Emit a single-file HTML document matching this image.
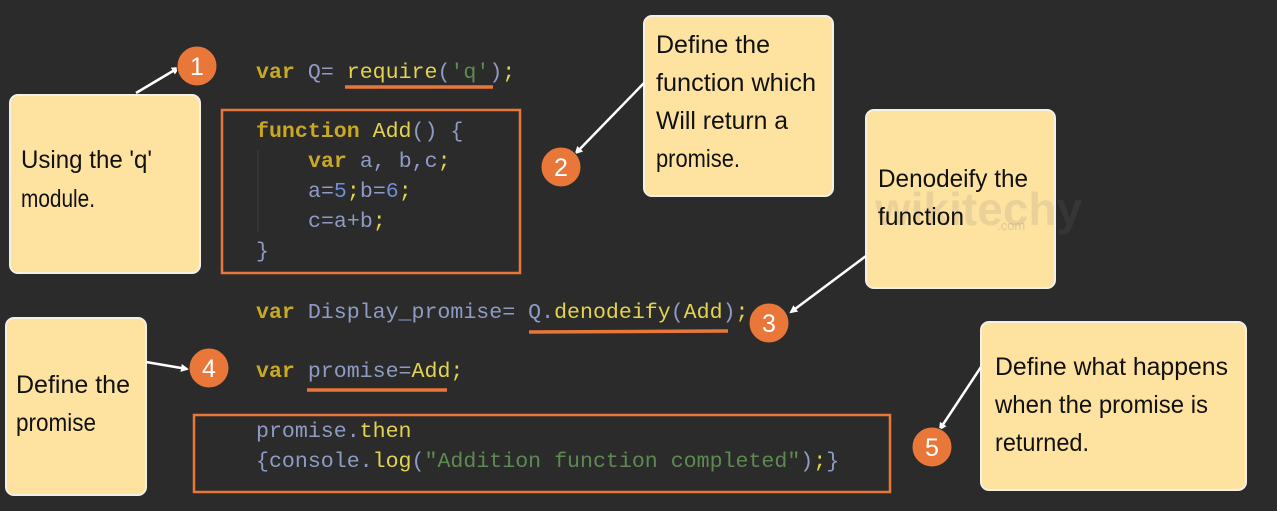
<!DOCTYPE html>
<html><head><meta charset="utf-8"><style>
html,body{margin:0;padding:0;background:#2b2b2b;}
svg{display:block}
.c{font-family:"Liberation Mono",monospace;font-size:21.6px;}
.k{fill:#c9a826;font-weight:bold}
.i{fill:#8f9bc4}
.y{fill:#e3d34f}
.g{fill:#5e8a52}
.n{fill:#6f8fd6}
.h{font-family:"Liberation Sans Narrow","Liberation Sans",sans-serif;font-size:25px;fill:#111;}
</style></head><body>
<svg width="1277" height="511" viewBox="0 0 1277 511" xmlns="http://www.w3.org/2000/svg">
<rect width="1277" height="511" fill="#2b2b2b"/>
<defs><marker id="a" markerWidth="8" markerHeight="8" refX="6" refY="4" orient="auto" markerUnits="userSpaceOnUse"><path d="M0,0 L8,4 L0,8 z" fill="#fff"/></marker></defs>
<rect x="222" y="110" width="298" height="163" fill="none" stroke="#e9773a" stroke-width="2.5"/>
<rect x="194" y="415" width="696" height="77" fill="none" stroke="#e9773a" stroke-width="2.5"/>
<line x1="258" y1="150" x2="258" y2="232" stroke="#3c3c3c" stroke-width="1"/>
<line x1="345" y1="87" x2="493" y2="87" stroke="#e9773a" stroke-width="3.5"/>
<line x1="529" y1="332" x2="728" y2="331" stroke="#e9773a" stroke-width="3.5"/>
<line x1="307" y1="390" x2="447" y2="390" stroke="#e9773a" stroke-width="3.5"/>
<g class="c" xml:space="preserve">
<text x="256" y="78"><tspan class="k">var</tspan><tspan class="i"> Q= </tspan><tspan class="y">require</tspan><tspan class="i">(</tspan><tspan class="g">'q'</tspan><tspan class="i">)</tspan><tspan class="y">;</tspan></text>
<text x="256" y="137"><tspan class="k">function</tspan><tspan class="i"> </tspan><tspan class="y">Add</tspan><tspan class="i">() {</tspan></text>
<text x="308" y="167"><tspan class="k">var</tspan><tspan class="i"> a, b,c</tspan><tspan class="y">;</tspan></text>
<text x="308" y="197"><tspan class="i">a=</tspan><tspan class="n">5</tspan><tspan class="y">;</tspan><tspan class="i">b=</tspan><tspan class="n">6</tspan><tspan class="y">;</tspan></text>
<text x="308" y="227"><tspan class="i">c=a+b</tspan><tspan class="y">;</tspan></text>
<text x="256" y="257"><tspan class="i">}</tspan></text>
<text x="256" y="318"><tspan class="k">var</tspan><tspan class="i"> Display_promise= Q.</tspan><tspan class="y">denodeify</tspan><tspan class="i">(</tspan><tspan class="y">Add</tspan><tspan class="i">)</tspan><tspan class="y">;</tspan></text>
<text x="256" y="377"><tspan class="k">var</tspan><tspan class="i"> promise=</tspan><tspan class="y">Add;</tspan></text>
<text x="256" y="437"><tspan class="i">promise.</tspan><tspan class="y">then</tspan></text>
<text x="256" y="467"><tspan class="i">{console.</tspan><tspan class="y">log</tspan><tspan class="i">(</tspan><tspan class="g">"Addition function completed"</tspan><tspan class="i">)</tspan><tspan class="y">;</tspan><tspan class="i">}</tspan></text>
</g>
<g fill="#fee2a0" stroke="#f4f0e6" stroke-width="2">
<rect x="10" y="95" width="190" height="178" rx="8"/>
<rect x="644" y="16" width="189" height="180" rx="8"/>
<rect x="866" y="110" width="189" height="178" rx="8"/>
<rect x="6" y="318" width="140" height="177" rx="8"/>
<rect x="981" y="322" width="265" height="168" rx="8"/>
</g>
<text x="875" y="225" font-family="Liberation Sans,sans-serif" font-weight="bold" font-size="46" fill="#777" opacity="0.15">wikitechy</text>
<text x="997" y="230" font-family="Liberation Sans,sans-serif" font-size="13" fill="#888" opacity="0.3">.com</text>
<g class="h">
<text x="21" y="168" textLength="131" lengthAdjust="spacingAndGlyphs">Using the 'q'</text>
<text x="21" y="207" textLength="74" lengthAdjust="spacingAndGlyphs">module.</text>
<text x="656" y="53" textLength="114" lengthAdjust="spacingAndGlyphs">Define the</text>
<text x="656" y="91" textLength="160" lengthAdjust="spacingAndGlyphs">function which</text>
<text x="656" y="129" textLength="132" lengthAdjust="spacingAndGlyphs">Will return a</text>
<text x="656" y="167" textLength="84" lengthAdjust="spacingAndGlyphs">promise.</text>
<text x="878" y="187" textLength="150" lengthAdjust="spacingAndGlyphs">Denodeify the</text>
<text x="878" y="225" textLength="86" lengthAdjust="spacingAndGlyphs">function</text>
<text x="16" y="393" textLength="114" lengthAdjust="spacingAndGlyphs">Define the</text>
<text x="16" y="431" textLength="80" lengthAdjust="spacingAndGlyphs">promise</text>
<text x="995" y="375" textLength="233" lengthAdjust="spacingAndGlyphs">Define what happens</text>
<text x="995" y="413" textLength="213" lengthAdjust="spacingAndGlyphs">when the promise is</text>
<text x="995" y="451" textLength="94" lengthAdjust="spacingAndGlyphs">returned.</text>
</g>
<g stroke="#fff" stroke-width="2.5" fill="none" marker-end="url(#a)">
<line x1="136" y1="93" x2="178" y2="68"/>
<line x1="644" y1="83" x2="576" y2="153"/>
<line x1="866" y1="256" x2="791" y2="312"/>
<line x1="146" y1="362" x2="187" y2="369"/>
<line x1="981" y1="367" x2="940" y2="429"/>
</g>
<g fill="#e9773a" stroke="#2b2b2b" stroke-width="1">
<circle cx="197" cy="66" r="20"/>
<circle cx="561" cy="167" r="20"/>
<circle cx="769" cy="323" r="20"/>
<circle cx="209" cy="368" r="20"/>
<circle cx="932" cy="447" r="20"/>
</g>
<g font-family="Liberation Sans,sans-serif" font-size="25" fill="#fff" text-anchor="middle">
<text x="197" y="75">1</text>
<text x="561" y="176">2</text>
<text x="769" y="332">3</text>
<text x="209" y="377">4</text>
<text x="932" y="456">5</text>
</g>
</svg>
</body></html>
